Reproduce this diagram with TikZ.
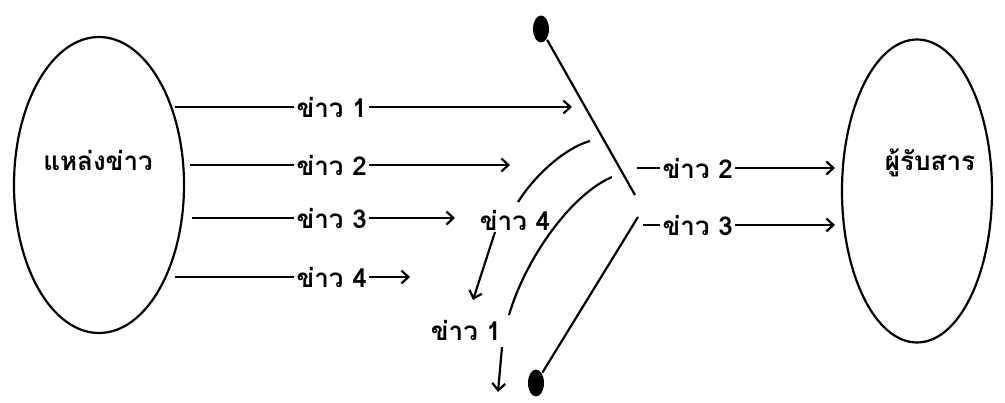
\documentclass[tikz,border=0pt]{standalone}
\usepackage{fontspec}
\newfontfamily\thaifont[Script=Thai]{Loma}
\usetikzlibrary{arrows.meta,shapes.geometric}
\begin{document}
\begin{tikzpicture}[x=1pt,y=-1pt,line width=2.2pt,
  lbl/.style={font=\thaifont\bfseries\fontsize{26}{30}\selectfont,inner sep=1.5pt},
  arr/.style={-{Straight Barb[length=7pt,width=13pt]}},
  blob/.style={ellipse,fill=black,minimum width=16pt,minimum height=27pt,inner sep=0pt},
  oval/.style={ellipse,draw,inner sep=0pt}]
\useasboundingbox (0,0) rectangle (1005,403);
\fill[white] (0,0) rectangle (1005,403);
% left and right ovals
\node[oval,minimum width=170pt,minimum height=296pt] (src) at (99,185) {};
\node[lbl] (srct) at (98,160) {แหล่งข่าว};
\node[oval,minimum width=150pt,minimum height=303pt] (dst) at (917,191) {};
\node[lbl] (dstt) at (930,163) {ผู้รับสาร};
% starts
\coordinate (s1) at (175,107);
\coordinate (s2) at (190,165);
\coordinate (s3) at (192,218);
\coordinate (s4) at (175,277);
\node[lbl,anchor=west] (k1) at (294,107) {ข่าว 1};
\node[lbl,anchor=west] (k2) at (294,165) {ข่าว 2};
\node[lbl,anchor=west] (k3) at (294,218) {ข่าว 3};
\node[lbl,anchor=west] (k4) at (294,277) {ข่าว 4};
\coordinate (e1) at (572,107);
\coordinate (e2) at (510,165);
\coordinate (e3) at (455,218);
\coordinate (e4) at (410,277);
\draw (s1) -- (k1.west);
\draw (s2) -- (k2.west);
\draw (s3) -- (k3.west);
\draw (s4) -- (k4.west);
\draw[arr] (k1.east) -- (e1);
\draw[arr] (k2.east) -- (e2);
\draw[arr] (k3.east) -- (e3);
\draw[arr] (k4.east) -- (e4);
% switch
\node[blob] (d1) at (541,29) {};
\node[blob] (d2) at (536,383) {};
\coordinate (p1) at (635,195);
\coordinate (p2) at (638,217);
\draw (d1) -- (p1);
\draw (p2) -- (d2);
% rerouted messages
\node[lbl] (m4) at (515,220) {ข่าว 4};
\node[lbl] (m1) at (466,330) {ข่าว 1};
\coordinate (c1) at (590,141);
\coordinate (c2) at (612,177);
\coordinate (c1e) at (518,202);
\coordinate (c2e) at (509,315);
\draw (c1) .. controls (565,148) and (535,175) .. (c1e);
\draw (c2) .. controls (570,195) and (525,260) .. (c2e);
\coordinate (a4) at (495,232);
\coordinate (b4) at (473,300);
\coordinate (a1) at (502,347);
\coordinate (b1) at (498,392);
\draw[arr] (a4) -- (b4);
\draw[arr] (a1) -- (b1);
% outgoing
\coordinate (o2) at (637,168);
\coordinate (o3) at (643,225);
\node[lbl,anchor=west] (r2) at (660,168) {ข่าว 2};
\node[lbl,anchor=west] (r3) at (660,225) {ข่าว 3};
\coordinate (t2) at (835,168);
\coordinate (t3) at (835,225);
\draw (o2) -- (r2.west);
\draw (o3) -- (r3.west);
\draw[arr] (r2.east) -- (t2);
\draw[arr] (r3.east) -- (t3);
\end{tikzpicture}
\end{document}
